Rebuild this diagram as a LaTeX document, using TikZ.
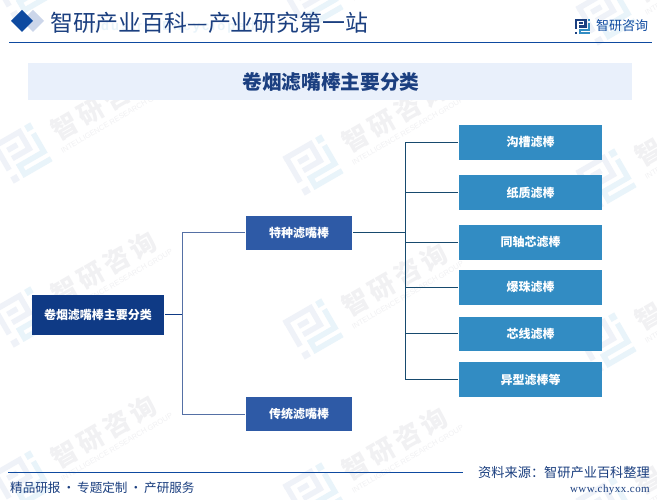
\documentclass[tikz,border=0pt]{standalone}
\usepackage{fontspec}
\setmainfont{Noto Sans CJK SC}
\newfontfamily\latinfont{Liberation Sans}
\newfontfamily\webfont[LetterSpace=4]{Liberation Serif}
\definecolor{rootblue}{HTML}{0F3A85}
\definecolor{midblue}{HTML}{2E5AA6}
\definecolor{leafblue}{HTML}{328CC3}
\definecolor{headblue}{HTML}{0E4AA0}
\definecolor{titleblue}{HTML}{1B3F80}
\definecolor{bandblue}{HTML}{E9F0FB}
\definecolor{diamondlight}{HTML}{CCD6EA}
\definecolor{linedark}{HTML}{174A6E}
\definecolor{linemid}{HTML}{5570A5}
\definecolor{wmdark}{HTML}{EFF2F8}
\definecolor{wmlight}{HTML}{E9F4FA}
\definecolor{wmtext}{HTML}{F1F1F3}
\tikzset{
  boxbase/.style={inner sep=0pt,text=white,font=\fontsize{12}{12}\selectfont\bfseries,align=center},
  rootbox/.style={boxbase,fill=rootblue,minimum width=132pt,minimum height=40pt},
  midbox/.style={boxbase,fill=midblue,minimum width=106pt,minimum height=34pt},
  leafbox/.style={boxbase,fill=leafblue,minimum width=143pt,minimum height=35pt},
  connL/.style={draw=linemid,line width=1pt},
  connH/.style={draw=linedark,line width=1pt},
  plain/.style={inner sep=0pt},
}
\newcommand{\wmark}[2]{%
  \begin{scope}[shift={(#1,#2)},rotate=30]
    \begin{scope}[x=2.8pt,y=-2.8pt,shift={(-8,-8)}]
      \draw[wmdark,line width=5.5pt] (0,1) -- (11,1) -- (11,8) -- (4,8);
      \draw[wmdark,line width=5.5pt] (1,1) -- (1,11);
      \draw[wmdark,line width=5.5pt] (4,4.6) -- (8,4.6);
      \fill[wmdark] (0,13.5) rectangle (2.5,16);
      \fill[wmlight] (13.5,0) rectangle (16,2.5);
      \draw[wmlight,line width=5.5pt] (15,4) -- (15,11.5) -- (5,11.5) -- (5,15) -- (16,15);
    \end{scope}
    \node[plain,anchor=west,transform shape,text=wmtext,font=\fontsize{26}{26}\selectfont\bfseries] at (37,-2) {智\hspace{4pt}研\hspace{4pt}咨\hspace{4pt}询};
    \node[plain,anchor=west,transform shape,text=wmtext,font=\latinfont\fontsize{7.5}{8}\selectfont] at (35,18) {INTELLIGENCE RESEARCH GROUP};
  \end{scope}%
}
\begin{document}
\begin{tikzpicture}[x=1pt,y=-1pt]
\useasboundingbox (0,0) rectangle (657,500);
\fill[white] (0,0) rectangle (657,500);
\begin{scope}
\clip (0,0) rectangle (657,500);
\foreach \py in {-11,153,317,481}{ \wmark{22}{\py} }
\foreach \py in {1,165,329,493}{ \wmark{313}{\py} }
\foreach \py in {15,179,343,507}{ \wmark{606}{\py} }
\end{scope}
% header
\node[plain,anchor=west,text=wmlight,font=\latinfont\bfseries\fontsize{13}{13}\selectfont] (faint) at (85,27) {I\,n\,d\,u\,s\,t\,r\,y\;\;\;E\,n\,c\,y\,c\,l\,o\,p\,e\,d\,i\,a};
\fill[diamondlight] (33,10) -- (44,21) -- (33,32) -- (22,21) -- cycle;
\fill[headblue] (22,10) -- (33,21) -- (22,32) -- (11,21) -- cycle;
\node[plain,anchor=west,text=titleblue,font=\fontsize{22.9}{23}\selectfont] (maintitle) at (50,23) {智研产业百科—产业研究第一站};
\draw[headblue,line width=1pt] (9,42.5) -- (652,42.5);
\begin{scope}[shift={(575,19)},x=0.95pt,y=-0.95pt]
  \draw[titleblue,line width=2.4pt] (0,1) -- (11,1) -- (11,8) -- (4,8);
  \draw[titleblue,line width=2.4pt] (1,1) -- (1,11);
  \draw[titleblue,line width=1.8pt] (4,4.6) -- (8,4.6);
  \fill[titleblue] (0,13.5) rectangle (2.5,16);
  \fill[leafblue] (13.5,0) rectangle (16,2.5);
  \draw[leafblue,line width=2.4pt] (15,4) -- (15,11.5) -- (5,11.5) -- (5,15) -- (16,15);
\end{scope}
\node[plain,anchor=west,text=headblue,font=\fontsize{13}{13}\selectfont] (brand) at (596,26) {智研咨询};
% band
\node[plain,fill=bandblue,minimum width=604pt,minimum height=37pt] (band) at (330,81.5) {};
\node[plain,text=titleblue,font=\fontsize{19.7}{20}\selectfont\bfseries] (bandtext) at (331,82) {卷烟滤嘴棒主要分类};
% boxes
\node[rootbox] (root) at (98,315) {卷烟滤嘴棒主要分类};
\node[midbox] (m1) at (299,233) {特种滤嘴棒};
\node[midbox] (m2) at (299,414) {传统滤嘴棒};
\node[leafbox] (l1) at (530.5,142.5) {沟槽滤棒};
\node[leafbox] (l2) at (530.5,192.5) {纸质滤棒};
\node[leafbox] (l3) at (530.5,242.5) {同轴芯滤棒};
\node[leafbox] (l4) at (530.5,287.5) {爆珠滤棒};
\node[leafbox,minimum height=34pt] (l5) at (530.5,334) {芯线滤棒};
\node[leafbox] (l6) at (530.5,379.5) {异型滤棒等};
% connectors
\coordinate (j1) at (182,315);
\coordinate (j2) at (405.5,233);
\draw[draw=rootblue,line width=1pt,shorten <=1pt] (root.east) -- (j1);
\draw[connL,shorten >=0.5pt] (j1) |- (m1.west);
\draw[connL,shorten >=0.5pt] (j1) |- (m2.west);
\draw[connH,shorten <=1pt] (m1.east) -- (j2);
\foreach \n in {l1,l2,l3,l4,l5,l6}{
  \draw[connH,shorten >=1pt] (j2) |- (\n.west);
}
% footer
\draw[headblue,line width=1pt] (8,472.5) -- (463,472.5);
\node[plain,anchor=west,text=titleblue,font=\fontsize{12.6}{13}\selectfont] (footl) at (10,488) {精品研报\hspace{2pt}·\hspace{2pt}专题定制\hspace{2pt}·\hspace{2pt}产研服务};
\node[plain,anchor=east,text=titleblue,font=\fontsize{13.2}{13}\selectfont] (footr) at (650,473) {资料来源：智研产业百科整理};
\node[plain,anchor=east,text=titleblue,font=\webfont\fontsize{11}{11}\selectfont] (web) at (650,490) {www.chyxx.com};
\end{tikzpicture}
\end{document}
